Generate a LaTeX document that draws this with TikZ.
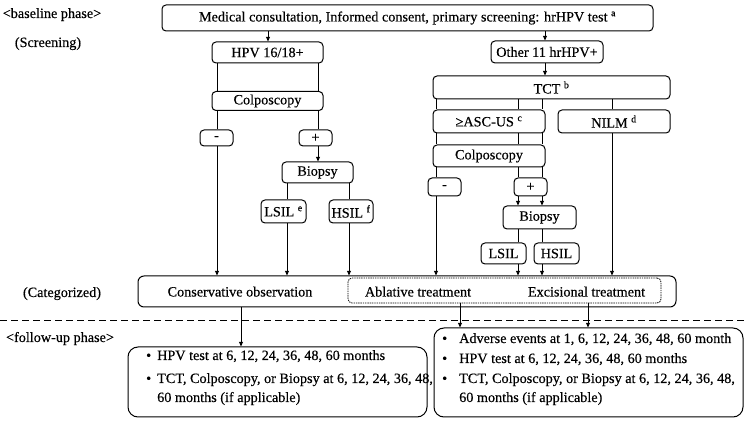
\documentclass[tikz,border=0pt]{standalone}
\usepackage{fontspec}
\setmainfont{Liberation Serif}[FakeBold=0.35]
\usetikzlibrary{arrows.meta}
\begin{document}
\begin{tikzpicture}[x=1pt,y=-1pt,
  box/.style={draw, line width=1pt, rounded corners=4pt, inner sep=0pt, font=\fontsize{14.2}{17}\selectfont},
  lbl/.style={inner sep=0pt, font=\fontsize{14.2}{17}\selectfont},
  conn/.style={line width=0.9pt},
  arr/.style={line width=0.9pt, -{Triangle[length=4.5pt,width=3.8pt]}},
  dbox/.style={draw, line width=0.8pt, rounded corners=4pt, dash pattern=on 1.4pt off 0.9pt, inner sep=0pt},
]
\useasboundingbox (0,0) rectangle (748,422);
% column coordinates
\coordinate (cA) at (268,0);
\coordinate (cB) at (545,0);
\coordinate (cL1) at (217,0);
\coordinate (cL2) at (318,0);
\coordinate (cL3) at (287,0);
\coordinate (cL4) at (349,0);
\coordinate (cR1) at (436,0);
\coordinate (cR2) at (518,0);
\coordinate (cR3) at (542,0);
\coordinate (cR4) at (612,0);
\coordinate (cF1) at (241,0);
\coordinate (cF2) at (460,0);
\coordinate (cF3) at (588,0);

% side labels
\node[lbl, anchor=base] (lb1) at (52,18) {<baseline phase>};
\node[lbl, anchor=base] (lb2) at (48,47) {(Screening)};
\node[lbl, anchor=base] (lb3) at (62,297) {(Categorized)};
\node[lbl, anchor=base] (lb4) at (60,342) {<follow-up phase>};

% boxes
\node[box, minimum width=491pt, minimum height=26pt] (top) at (407.5,18)
  {Medical consultation, Informed consent, primary screening: hrHPV test \textsuperscript{a}};
\node[box, minimum width=111pt, minimum height=21pt] (hpv) at (267.5,52.5) {HPV 16/18+};
\node[box, minimum width=112pt, minimum height=22pt] (oth) at (547,52) {Other 11 hrHPV+};
\node[box, minimum width=111pt, minimum height=19pt] (colpL) at (267.5,101) {Colposcopy};
\node[box, minimum width=33pt, minimum height=16pt] (minL) at (216.5,138) {-};
\node[box, minimum width=33pt, minimum height=16pt] (plusL) at (315.5,138) {+};
\node[box, minimum width=71pt, minimum height=21pt] (biopL) at (317.5,172.5) {Biopsy};
\node[box, minimum width=45pt, minimum height=23pt] (lsilL) at (283.5,211.5) {LSIL \textsuperscript{e}};
\node[box, minimum width=44pt, minimum height=23pt] (hsilL) at (351,211.5) {HSIL \textsuperscript{f}};

\node[box, minimum width=237pt, minimum height=23pt] (tct) at (551.5,87.5) {TCT \textsuperscript{b}};
\node[box, minimum width=112pt, minimum height=23pt] (asc) at (489,121.5) {≥ASC-US \textsuperscript{c}};
\node[box, minimum width=112pt, minimum height=23pt] (nilm) at (614,121.5) {NILM \textsuperscript{d}};
\node[box, minimum width=112pt, minimum height=22pt] (colpR) at (489,156) {Colposcopy};
\node[box, minimum width=33pt, minimum height=18pt] (minR) at (444.5,187) {-};
\node[box, minimum width=33pt, minimum height=18pt] (plusR) at (530.5,187) {+};
\node[box, minimum width=73pt, minimum height=23pt] (biopR) at (539.5,217.5) {Biopsy};
\node[box, minimum width=45pt, minimum height=21pt] (lsilR) at (503.5,253.5) {LSIL};
\node[box, minimum width=45pt, minimum height=21pt] (hsilR) at (556.5,253.5) {HSIL};

\node[box, rounded corners=6pt, minimum width=538pt, minimum height=31pt] (cat) at (407,291.5) {};
\node[dbox, minimum width=313pt, minimum height=25pt] (inner) at (504.5,290.5) {};
\node[lbl, anchor=base] (cons) at (240,296.5) {Conservative observation};
\node[lbl, anchor=base] (abl) at (418,296.5) {Ablative treatment};
\node[lbl, anchor=base] (exc) at (586.5,296.5) {Excisional treatment};

\node[box, rounded corners=10pt, minimum width=299pt, minimum height=70pt] (fuL) at (277.5,382) {};
\node[box, rounded corners=10pt, minimum width=309pt, minimum height=89pt] (fuR) at (588.5,372.5) {};

\node[lbl, anchor=base west] (fl1) at (146,360) {\makebox[11pt][l]{•}HPV test at 6, 12, 24, 36, 48, 60 months};
\node[lbl, anchor=base west] (fl2) at (146,383) {\makebox[11pt][l]{•}TCT, Colposcopy, or Biopsy at 6, 12, 24, 36, 48,};
\node[lbl, anchor=base west] (fl3) at (157,402) {60 months (if applicable)};
\node[lbl, anchor=base west] (fr1) at (442,343) {\makebox[17pt][l]{•}Adverse events at 1, 6, 12, 24, 36, 48, 60 month};
\node[lbl, anchor=base west] (fr2) at (442,363) {\makebox[17pt][l]{•}HPV test at 6, 12, 24, 36, 48, 60 months};
\node[lbl, anchor=base west] (fr3) at (442,383) {\makebox[17pt][l]{•}TCT, Colposcopy, or Biopsy at 6, 12, 24, 36, 48,};
\node[lbl, anchor=base west] (fr4) at (459,402) {60 months (if applicable)};

% separator
\coordinate (sepL) at (0,321);
\coordinate (sepR) at (748,321);
\draw[line width=1pt, dash pattern=on 7pt off 4pt] (sepL) -- (sepR);

% connectors left
\draw[arr] (top.south -| cA) -- (hpv.north -| cA);
\draw[conn] (hpv.south -| cL1) -- (colpL.north -| cL1);
\draw[conn] (hpv.south -| cL2) -- (colpL.north -| cL2);
\draw[conn] (colpL.south -| cL1) -- (minL.north -| cL1);
\draw[conn] (colpL.south -| cL2) -- (plusL.north -| cL2);
\draw[arr] (minL.south -| cL1) -- (cat.north -| cL1);
\draw[arr] (plusL.south -| cL2) -- (biopL.north -| cL2);
\draw[conn] (biopL.south -| cL3) -- (lsilL.north -| cL3);
\draw[conn] (biopL.south -| cL4) -- (hsilL.north -| cL4);
\draw[arr] (lsilL.south -| cL3) -- (cat.north -| cL3);
\draw[arr] (hsilL.south -| cL4) -- (cat.north -| cL4);

% connectors right
\draw[arr] (top.south -| cB) -- (oth.north -| cB);
\draw[arr] (oth.south -| cB) -- (tct.north -| cB);
\draw[conn] (tct.south -| cR1) -- (asc.north -| cR1);
\draw[conn] (tct.south -| cR2) -- (asc.north -| cR2);
\draw[conn] (tct.south -| cR3) -- (asc.north -| cR3);
\draw[conn] (tct.south -| cR4) -- (nilm.north -| cR4);
\draw[conn] (asc.south -| cR1) -- (colpR.north -| cR1);
\draw[conn] (asc.south -| cR2) -- (colpR.north -| cR2);
\draw[conn] (asc.south -| cR3) -- (colpR.north -| cR3);
\draw[conn] (colpR.south -| cR1) -- (minR.north -| cR1);
\draw[conn] (colpR.south -| cR2) -- (plusR.north -| cR2);
\draw[conn] (colpR.south -| cR3) -- (plusR.north -| cR3);
\draw[arr] (plusR.south -| cR2) -- (biopR.north -| cR2);
\draw[arr] (plusR.south -| cR3) -- (biopR.north -| cR3);
\draw[conn] (biopR.south -| cR2) -- (lsilR.north -| cR2);
\draw[conn] (biopR.south -| cR3) -- (hsilR.north -| cR3);
\draw[arr] (minR.south -| cR1) -- (cat.north -| cR1);
\draw[arr] (lsilR.south -| cR2) -- (cat.north -| cR2);
\draw[arr] (hsilR.south -| cR3) -- (cat.north -| cR3);
\draw[arr] (nilm.south -| cR4) -- (cat.north -| cR4);

% follow-up connectors
\draw[arr] (cat.south -| cF1) -- (fuL.north -| cF1);
\draw[arr] (inner.south -| cF2) -- (fuR.north -| cF2);
\draw[arr] (inner.south -| cF3) -- (fuR.north -| cF3);
\end{tikzpicture}
\end{document}
